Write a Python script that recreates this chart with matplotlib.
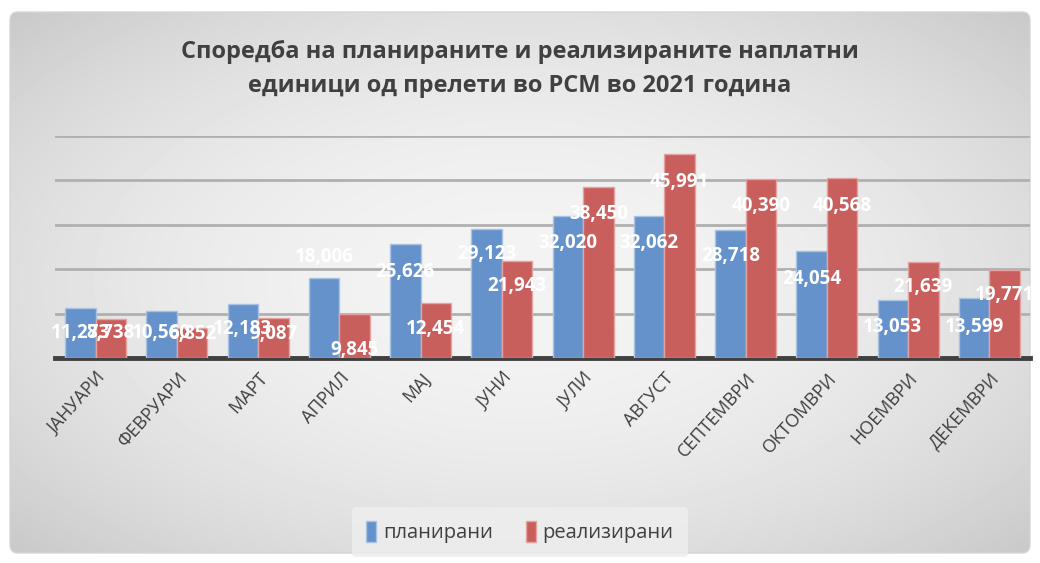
import numpy as np
import matplotlib
matplotlib.use("Agg")
import matplotlib.pyplot as plt
from matplotlib.patches import FancyBboxPatch

plt.rcParams['font.family'] = ['Open Sans', 'DejaVu Sans']

months = ["ЈАНУАРИ", "ФЕВРУАРИ", "МАРТ", "АПРИЛ", "МАЈ", "ЈУНИ", "ЈУЛИ",
          "АВГУСТ", "СЕПТЕМВРИ", "ОКТОМВРИ", "НОЕМВРИ", "ДЕКЕМВРИ"]
planned = [11273, 10560, 12183, 18006, 25626, 29123, 32020, 32062, 28718, 24054, 13053, 13599]
realized = [8738, 6852, 9087, 9845, 12454, 21943, 38450, 45991, 40390, 40568, 21639, 19771]

title = "Споредба на планираните и реализираните наплатни\nединици од прелети во РСМ во 2021 година"

# label distance below bar top, in pixels (a few labels sit elsewhere)
plan_off = [25, 22, 25, -21, 28, 25, 27, 27, 26, 28, 27, 29]
real_off = [14, 6, 16, 36, 26, 25, 27, 28, 27, 28, 25, 25]

W, H = 1040, 563
fig = plt.figure(figsize=(W / 100, H / 100), dpi=100)
fig.patch.set_facecolor("white")

# background: radial gray gradient in a rounded frame
bg = fig.add_axes([0, 0, 1, 1], zorder=-5)
bg.set_xlim(0, W)
bg.set_ylim(H, 0)
bg.axis("off")
yy, xx = np.mgrid[0:H, 0:W]
r2 = ((xx - W / 2) / (W / 2)) ** 2 + ((yy - H / 2) / (H / 2)) ** 2
shade = np.clip(0.955 - 0.09 * r2, 0, 1)
frame = FancyBboxPatch((10, 12), W - 20, H - 22, boxstyle="round,pad=0,rounding_size=8",
                       fc="none", ec="#d6d6d6", lw=1.0, transform=bg.transData)
bg.add_patch(frame)
im = bg.imshow(shade, cmap="gray", vmin=0, vmax=1, extent=(0, W, H, 0), aspect="auto")
im.set_clip_path(frame)

ax = fig.add_axes([55 / W, 1 - 358 / H, 975 / W, (358 - 136) / H])
ax.patch.set_alpha(0)
x = np.arange(len(months))
bw = 0.375
b1 = ax.bar(x - bw / 2, planned, bw, color="#6592cb", edgecolor="#a9c2e4", linewidth=1, zorder=3, label="планирани")
b2 = ax.bar(x + bw / 2, realized, bw, color="#c95f5d", edgecolor="#e4a3a1", linewidth=1, zorder=3, label="реализирани")

ax.set_xlim(-0.5, len(months) - 0.5)
ax.set_ylim(0, 50000)
ax.set_yticks(np.arange(10000, 50001, 10000))
ax.yaxis.grid(True, color="#b0b0b0", lw=2)
ax.set_axisbelow(True)
ax.tick_params(axis="y", length=0, labelleft=False)
ax.tick_params(axis="x", length=0, pad=8)
for s in ["top", "right", "left"]:
    ax.spines[s].set_visible(False)
ax.spines["bottom"].set_color("#404040")
ax.spines["bottom"].set_linewidth(3.5)
ax.set_xticks(x)
ax.set_xticklabels(months, rotation=48, ha="right", rotation_mode="anchor",
                   fontsize=13, color="#404040")

for bars, vals, offs in [(b1, planned, plan_off), (b2, realized, real_off)]:
    for b, v, o in zip(bars, vals, offs):
        ax.annotate(f"{v:,}", (b.get_x() + b.get_width() / 2, v),
                    xytext=(0, -o * 0.72), textcoords="offset points",
                    ha="center", va="center", color="white", fontsize=13.5,
                    fontweight="bold", zorder=5)

fig.text(0.5, 1 - 69 / H, title, ha="center", va="center", fontsize=17,
         fontweight="bold", color="#404040", linespacing=1.6)

leg = fig.legend(loc="center", bbox_to_anchor=(520 / W, 1 - 532 / H), ncol=2,
                 frameon=True, fontsize=14.5, handlelength=0.5, handleheight=1.2,
                 handletextpad=0.35, columnspacing=1.6, borderpad=0.7)
leg.get_frame().set_facecolor("#eeeeee")
leg.get_frame().set_edgecolor("none")
leg.get_frame().set_alpha(0.85)
for t in leg.get_texts():
    t.set_color("#404040")

fig.savefig("out.png", dpi=100)
